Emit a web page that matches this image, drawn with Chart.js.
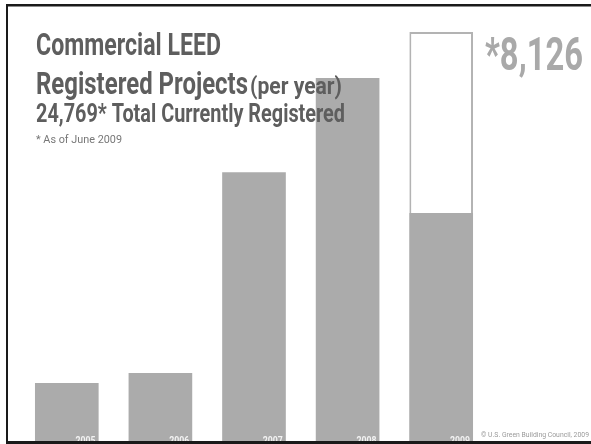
<!DOCTYPE html>
<html>
<head>
<meta charset="utf-8">
<title>Commercial LEED Registered Projects</title>
<script src="https://cdn.jsdelivr.net/npm/chart.js@4.4.0/dist/chart.umd.min.js"></script>
<style>
    html, body { margin: 0; padding: 0; background: #fff; }
    #leedChart { display: block; }
</style>
</head>
<body>
<canvas id="leedChart" width="591" height="444"></canvas>
<script>
// Commercial LEED registrations per year
const years = ['2005', '2006', '2007', '2008', '2009'];
const registered = [1150, 1350, 5340, 7210, 4530];
const yearEnd2009 = [null, null, null, null, 8126];
const yearEndLabel = '*8,126';
const yMax = 8700;

const condensed = "Roboto, 'Liberation Sans', sans-serif";

// draw text squeezed/stretched to an exact width
function fitText(ctx, text, x, y, width) {
    const w = ctx.measureText(text).width;
    ctx.save();
    ctx.translate(x, y);
    ctx.scale(width / w, 1);
    ctx.fillText(text, 0, 0);
    ctx.restore();
}

const slideText = {
    id: 'slideText',
    afterDatasetsDraw(chart) {
        const ctx = chart.ctx;
        ctx.save();
        ctx.textBaseline = 'alphabetic';
        ctx.textAlign = 'left';

        // title block
        ctx.fillStyle = '#5e5e5e';
        ctx.font = 'bold 31px ' + condensed;
        fitText(ctx, 'Commercial LEED', 36, 55, 185);
        fitText(ctx, 'Registered Projects', 36, 94, 212);
        ctx.font = 'bold 23px ' + condensed;
        fitText(ctx, '(per year)', 250, 94, 92);
        ctx.font = 'bold 26px ' + condensed;
        fitText(ctx, '24,769* Total Currently Registered', 36, 122, 309);
        ctx.fillStyle = '#777';
        ctx.font = '11px ' + condensed;
        fitText(ctx, '* As of June 2009', 36, 143, 86);

        // 2009 year-end figure
        ctx.fillStyle = '#a9a9a9';
        ctx.font = 'bold 47px ' + condensed;
        fitText(ctx, yearEndLabel, 485, 70, 98);

        // year labels at the foot of each bar
        const meta = chart.getDatasetMeta(0);
        ctx.fillStyle = '#f2f2f2';
        ctx.font = 'bold 10px ' + condensed;
        meta.data.forEach((bar, i) => {
            const right = bar.x + bar.width / 2 - 3;
            fitText(ctx, years[i], right - 20, 444, 20);
        });

        ctx.fillStyle = '#9a9a9a';
        ctx.font = '7px ' + condensed;
        fitText(ctx, '\u00A9 U.S. Green Building Council, 2009', 481, 437, 108);

        // slide frame
        ctx.fillStyle = '#1a1a1a';
        ctx.fillRect(6, 4, 585, 2.5);
        ctx.fillRect(6, 4, 2, 440);
        ctx.fillRect(6, 441, 585, 3);
        ctx.restore();
    }
};

new Chart(document.getElementById('leedChart').getContext('2d'), {
    type: 'bar',
    data: {
        labels: years,
        datasets: [{
            label: 'Registered',
            data: registered,
            backgroundColor: '#ababab',
            borderWidth: 0,
            grouped: false
        }, {
            label: '2009 year end',
            data: yearEnd2009,
            backgroundColor: '#ffffff',
            borderColor: '#b3b3b3',
            borderWidth: 2,
            grouped: false
        }]
    },
    options: {
        responsive: false,
        animation: false,
        devicePixelRatio: 1,
        barPercentage: 0.68,
        categoryPercentage: 1,
        layout: { padding: { left: 20, right: 103, top: 3, bottom: 3 } },
        plugins: {
            legend: { display: false },
            tooltip: { enabled: false }
        },
        scales: {
            x: { display: false, offset: true },
            y: { display: false, min: 0, max: yMax }
        }
    },
    plugins: [slideText]
});
</script>
</body>
</html>
